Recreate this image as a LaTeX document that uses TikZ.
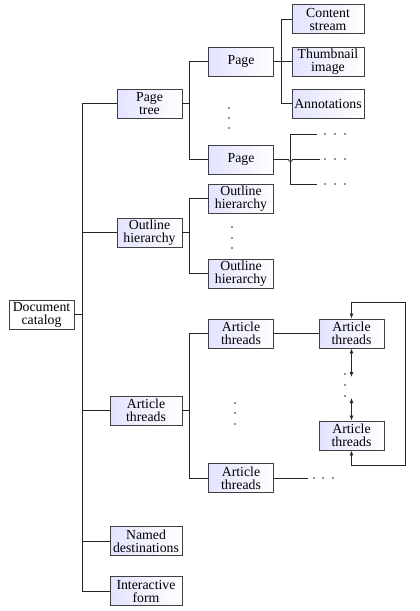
\documentclass[tikz,border=0pt]{standalone}
\usepackage{fontspec}
\setmainfont{Liberation Serif}
\usetikzlibrary{arrows.meta}
\tikzset{
  box/.style={draw=black!75, line width=0.9pt, left color=blue!11, right color=white,
    inner sep=0pt, align=center, minimum height=29pt,
    font=\fontsize{13.8}{13}\selectfont},
  plainbox/.style={box, left color=white, right color=white},
  w65/.style={minimum width=65pt},
  w72/.style={minimum width=72pt},
  conn/.style={draw=black!85, line width=0.8pt},
  arr/.style={conn, {Latex[length=5pt,width=4pt]}-{Latex[length=5pt,width=4pt]}},
  dotc/.style={fill=black!85, circle, inner sep=0pt, minimum size=1.8pt}
}
\begin{document}
\begin{tikzpicture}[x=1pt,y=-1pt]
\useasboundingbox (0,0) rectangle (420,611);
% level 0
\node[plainbox,w65] (dc) at (41.5,314.5) {Document\\catalog};
% level 1
\node[box,w65] (pt) at (149.5,103.5) {Page\\tree};
\node[box,w65] (oh) at (149.5,232.5) {Outline\\hierarchy};
\node[box,w72] (at) at (146,410.5) {Article\\threads};
\node[box,w72] (nd) at (146,541) {Named\\destinations};
\node[box,w72] (if) at (146,591) {Interactive\\form};
% level 2
\node[box,w65] (p1) at (241,61.5) {Page};
\node[box,w65] (p2) at (241,159.5) {Page};
\node[box,w65] (o1) at (241,198.5) {Outline\\hierarchy};
\node[box,w65] (o2) at (241,273.5) {Outline\\hierarchy};
\node[box,w65] (a1) at (241,333.5) {Article\\threads};
\node[box,w65] (a2) at (241,478) {Article\\threads};
% level 3
\node[box,w72] (cs) at (328,19) {Content\\stream};
\node[box,w72] (ti) at (328,61.5) {Thumbnail\\image};
\node[box,w72] (an) at (328,103.5) {Annotations};
\node[box,w65] (b1) at (351.5,333.5) {Article\\threads};
\node[box,w65] (b2) at (351.5,435.5) {Article\\threads};
% buses
\coordinate (tr) at (82,0);
\coordinate (bu) at (189,0);
\coordinate (cb) at (281,0);
\draw[conn] (dc.east) -- (dc.east -| tr);
\draw[conn] (pt.west -| tr) -- (if.west -| tr);
\foreach \n in {pt,oh,at,nd,if} \draw[conn] (\n.west) -- (\n.west -| tr);
\draw[conn] (pt.east) -- (pt.east -| bu);
\draw[conn] (p1.west -| bu) -- (p2.west -| bu);
\draw[conn] (oh.east) -- (oh.east -| bu);
\draw[conn] (o1.west -| bu) -- (o2.west -| bu);
\draw[conn] (at.east) -- (at.east -| bu);
\draw[conn] (a1.west -| bu) -- (a2.west -| bu);
\foreach \n in {p1,p2,o1,o2,a1,a2} \draw[conn] (\n.west) -- (\n.west -| bu);
\draw[conn] (p1.east) -- (p1.east -| cb);
\draw[conn] (cs.west -| cb) -- (an.west -| cb);
\foreach \n in {cs,ti,an} \draw[conn] (\n.west) -- (\n.west -| cb);
% second page branches
\coordinate (h1) at (290.5,134.5);
\coordinate (h2) at (290.5,184.5);
\coordinate (e1) at (317,134.5);
\coordinate (e2) at (317,184.5);
\coordinate (e0) at (320,159.5);
\draw[conn] (e1) -- (h1) -- (h2) -- (e2);
\draw[conn] (p2.east) -- (288.5,159.5) arc[start angle=180,end angle=0,radius=2] -- (e0);
\foreach \y in {134,159,184} \foreach \x in {325,335,345} \node[dotc] at (\x,\y) {};
% vertical dots
\foreach \y in {108,118,128} \node[dotc] at (229,\y) {};
\foreach \y in {227,238,248} \node[dotc] at (232,\y) {};
\foreach \y in {403,413,424} \node[dotc] at (235,\y) {};
\foreach \y in {374,385,396} \node[dotc] at (345,\y) {};
% article thread links
\draw[conn] (a1.east) -- (b1.west);
\coordinate (ae) at (308,478);
\draw[conn] (a2.east) -- (ae);
\foreach \x in {314,323,333} \node[dotc] at (\x,478) {};
\coordinate (u) at (351.5,377);
\coordinate (l) at (351.5,398);
\draw[arr] (b1.south) -- (u);
\draw[arr] (l) -- (b2.north);
\coordinate (rt) at (405,302);
\coordinate (rb) at (405,465);
\draw[arr] (b1.north) |- (rt) -- (rb) -| (b2.south);
\end{tikzpicture}
\end{document}
